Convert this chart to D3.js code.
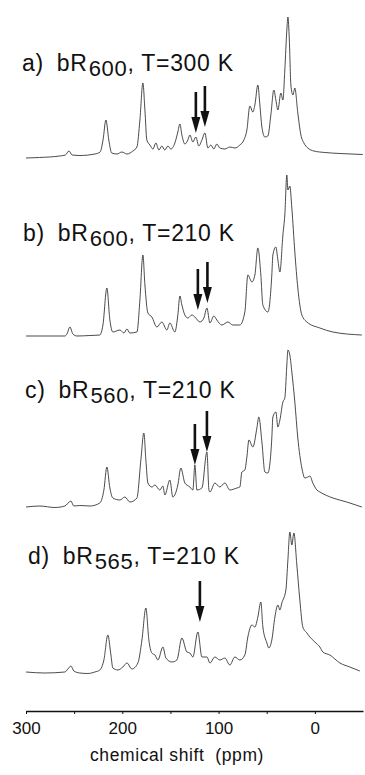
<!DOCTYPE html>
<html>
<head>
<meta charset="utf-8">
<script src="https://cdn.jsdelivr.net/npm/d3@7"></script>
<style>
  html, body { margin: 0; padding: 0; background: #fff; }
  svg { display: block; }
  text { font-family: "Liberation Sans", Arial, Helvetica, sans-serif; fill: #111; }
</style>
</head>
<body>
<svg id="chart" width="365" height="775"></svg>
<script>
// ---------------- data ----------------
const ppmTicksMajor = [300, 200, 100, 0];
const ppmTicksMinor = [250, 150, 50];
const axisTitle = "chemical shift  (ppm)";

const panelLetters = ["a)", "b)", "c)", "d)"];
const formSubscripts = ["600", "600", "560", "565"];
const temperatures = ["300", "210", "210", "210"];

// [ppm, intensity]
const spectrumA = [
  [300,0],[286,0.5],[265,2],[259,3],[255.5,7],[252,3],[244,2.5],[228.5,4],[223,6],[220,18],
  [217,38],[214,18],[211,5],[205.6,4],[200.4,6],[195.2,4],[189,7],[184.8,11],[181.7,38],[178.6,75],
  [176.5,48],[174.5,18],[171.3,13],[168.2,9],[165.1,15],[162,8],[158.9,12],[155.8,8],[152.6,12],[149.5,9],
  [145.4,15],[142.3,26],[140.2,34],[138.1,23],[135,14],[131.9,18],[129.8,23],[126.7,16],[123.6,21],[120.5,12],
  [117.3,18],[114.2,25],[111.1,10],[108,13],[104.9,9],[101.8,14],[98.7,10],[93.5,9],[88.3,11],[83.1,10],
  [77.9,13],[73.7,18],[70.6,28],[67.5,52],[64.4,46],[62.3,53],[59.2,73],[57.1,53],[55,31],[51.9,21],
  [48.8,22],[45.7,43],[42.6,68],[40.5,58],[38.4,48],[35.3,65],[33.2,58],[31.2,88],[29.1,128],[28,141],
  [26.5,118],[24.9,73],[22.8,63],[20.8,70],[17.7,45],[14.5,23],[11.4,15],[7.3,10],[1,7],[-10.4,5.5],
  [-26,4.5],[-49.8,3.5]
];
const spectrumB = [
  [300,0],[259.6,0],[257.5,2],[254.4,9],[251.3,2],[247.1,0],[233.6,0.5],[223.3,1],[220.1,11],[216,48],
  [212.9,16],[209.8,4],[202.5,6],[198.3,3],[195.2,7],[192.1,3],[184.8,4],[181.7,36],[178.6,81],[176.5,51],
  [173.4,23],[169.3,19],[164.1,9],[158.9,14],[153.7,6],[150.6,13],[145.4,4],[142.3,21],[140.2,40],[138.1,31],
  [135,21],[131.9,18],[127.7,21],[124.6,19],[119.4,14],[115.3,18],[112.1,28],[109,13],[104.9,20],[101.8,16],
  [96.6,11],[90.3,14],[85.2,11],[77.9,11],[72.7,24],[69.6,61],[65.4,54],[62.3,61],[59.2,88],[56.1,61],
  [54,31],[48.8,24],[44.7,61],[43.6,81],[40.5,89],[38.4,76],[36.3,64],[33.2,101],[31.2,121],[29.1,161],
  [28,146],[26,150],[23.9,128],[20.8,84],[17.7,48],[13.5,21],[8.3,14],[-5.2,8],[-18.7,4],[-48.8,1]
];
const spectrumC = [
  [300,0],[285.6,1],[270,-0.5],[259.6,1],[253.4,6],[250.3,1],[244,1.5],[233.6,1],[223.3,4],[219.1,17],
  [216,40],[212.9,19],[209.8,9],[202.5,7],[197.3,10],[192.1,5],[184.8,9],[180.7,47],[177.6,74],[175.5,47],
  [173.4,24],[169.3,20],[166.1,22],[161,17],[157.8,21],[155.8,12],[150.6,27],[147.5,10],[142.3,22],[139.2,39],
  [135,24],[129.8,20],[126.7,17],[124.6,42],[122.5,17],[117.3,19],[112.1,55],[110,17],[109,15],[103.8,24],
  [98.7,20],[93.5,24],[88.3,17],[81,19],[77.9,20],[75.8,35],[72.7,37],[70.6,50],[68.5,67],[64.4,60],
  [60.2,79],[58.2,90],[55,65],[51.9,35],[48.8,34],[44.7,69],[43.6,90],[40.5,95],[38.4,80],[36.3,87],
  [33.2,105],[31.2,109],[29.1,142],[28,157],[26,152],[23.9,135],[20.8,105],[17.7,69],[13.5,39],[10.4,29],
  [7.3,30],[5.2,31],[2.1,24],[-2.1,17],[-5.2,15],[-18.7,9],[-33.2,5],[-48.8,0]
];
const spectrumD = [
  [300,0],[280.4,-1],[259.6,0],[256.5,3],[253.4,6],[250.3,1],[244,-1],[235.7,-1.5],[228.5,0],[223.3,2],
  [219.1,12],[215,37],[211.8,17],[209.8,4],[204.6,2],[199.4,5],[195.2,9],[190,3],[183.8,9],[179.6,32],
  [175.5,64],[172.4,32],[169.3,19],[166.1,17],[163,12],[157.8,25],[154.7,14],[148.5,10],[143.3,12],[138.1,34],
  [132.9,20],[129.8,19],[126.7,15],[121.5,40],[117.3,15],[112.1,15],[109,9],[103.8,15],[98.7,12],[93.5,14],
  [88.3,7],[83.1,15],[77.9,12],[72.7,17],[69.6,35],[65.4,47],[62.3,45],[59.2,55],[56.1,70],[54,45],
  [49.8,29],[47.8,24],[44.7,32],[41.5,55],[38.4,67],[36.3,62],[34.3,69],[30.1,82],[28,112],[26,140],
  [23.9,127],[21.8,139],[18.7,107],[15.6,72],[12.5,45],[8.3,39],[5.2,35],[0,30],[-5.2,25],[-8.3,20],
  [-15.6,17],[-26,9],[-36.3,5],[-46.7,1]
];
const spectra = [spectrumA, spectrumB, spectrumC, spectrumD];

// arrows: [ppm, intensity of tip]
const arrowsA = [[123.6,25],[114.2,31]];
const arrowsB = [[121.5,26],[111.6,33]];
const arrowsC = [[124.6,42],[112.1,55]];
const arrowsD = [[119.4,50]];
const arrows = [arrowsA, arrowsB, arrowsC, arrowsD];

// ---------------- layout ----------------
const svg = d3.select("#chart");
const x = d3.scaleLinear().domain([300, -50]).range([26, 363]);
const baselines = [158, 336, 507, 672];
const labelBase = [71, 241, 398, 564];
const labelX = [22, 23, 25, 28];
const axisY = 711;

const line = d3.line().x(d => x(d[0])).curve(d3.curveMonotoneX);

spectra.forEach((data, i) => {
  const y = d3.scaleLinear().domain([0, 160]).range([baselines[i], baselines[i] - 160]);
  const g = svg.append("g");
  g.append("path")
    .datum(data)
    .attr("d", line.y(d => y(d[1])))
    .attr("fill", "none")
    .attr("stroke", "#2a2a2a")
    .attr("stroke-width", 0.85)
    .attr("stroke-linejoin", "round");

  // arrows
  const aLen = 41, headLen = 16, headW = 9;
  arrows[i].forEach(a => {
    const ax = x(a[0]), ty = y(a[1]);
    g.append("line")
      .attr("x1", ax).attr("x2", ax)
      .attr("y1", ty - aLen).attr("y2", ty - headLen + 1)
      .attr("stroke", "#111").attr("stroke-width", 2.6);
    g.append("path")
      .attr("d", `M${ax - headW / 2},${ty - headLen}L${ax + headW / 2},${ty - headLen}L${ax},${ty}Z`)
      .attr("fill", "#111");
  });

  // label
  const t = g.append("text")
    .attr("x", labelX[i]).attr("y", labelBase[i])
    .attr("font-size", 23)
    .attr("letter-spacing", 0.7);
  t.append("tspan").text(panelLetters[i]);
  t.append("tspan").attr("dx", 13).text("bR");
  t.append("tspan").attr("dy", 5).attr("dx", 1).attr("font-size", 22).text(formSubscripts[i]);
  t.append("tspan").attr("dy", -5).text(", T=" + temperatures[i] + " K");
});

// axis
const axisMajor = d3.axisBottom(x).tickValues(ppmTicksMajor).tickSize(3).tickSizeOuter(0).tickPadding(8)
  .tickFormat(d3.format("d"));
const gAx = svg.append("g").attr("transform", `translate(0,${axisY})`).call(axisMajor);
gAx.select(".domain").attr("stroke", "#111").attr("stroke-width", 1.6);
gAx.selectAll(".tick line").attr("stroke", "#111");
gAx.selectAll(".tick text").attr("font-size", 17).attr("fill", "#111")
  .style("font-family", '"Liberation Sans", Arial, sans-serif');

const axisMinor = d3.axisBottom(x).tickValues(ppmTicksMinor).tickSize(3).tickSizeOuter(0).tickFormat("");
const gMin = svg.append("g").attr("transform", `translate(0,${axisY})`).call(axisMinor);
gMin.select(".domain").remove();
gMin.selectAll(".tick line").attr("stroke", "#111");

svg.append("text")
  .attr("x", 177).attr("y", 761)
  .attr("text-anchor", "middle")
  .attr("font-size", 17.5)
  .attr("letter-spacing", 0.6)
  .style("white-space", "pre")
  .text(axisTitle);
</script>
</body>
</html>
